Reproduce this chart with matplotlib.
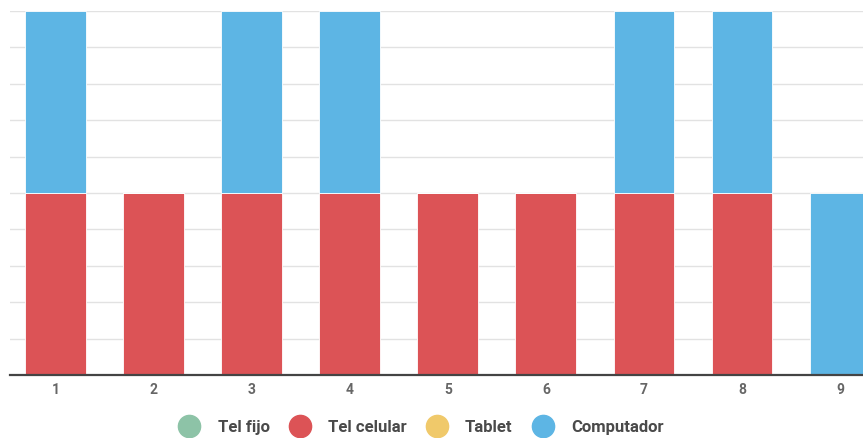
import numpy as np
import matplotlib
matplotlib.use('Agg')
import matplotlib.pyplot as plt
from matplotlib.lines import Line2D

plt.rcParams['font.family'] = ['Roboto', 'DejaVu Sans']

categories = ['1', '2', '3', '4', '5', '6', '7', '8', '9']
tel_fijo = [0, 0, 0, 0, 0, 0, 0, 0, 0]
tel_celular = [1, 1, 1, 1, 1, 1, 1, 1, 0]
tablet = [0, 0, 0, 0, 0, 0, 0, 0, 0]
computador = [1, 0, 1, 1, 0, 0, 1, 1, 1]

names = ['Tel fijo', 'Tel celular', 'Tablet', 'Computador']
colors = ['#8DC3A7', '#DC5356', '#F0C96A', '#5DB5E4']

fig = plt.figure(figsize=(8.63, 4.39), dpi=100)
ax = fig.add_axes([10 / 863, 63 / 439, 853 / 863, 364 / 439])

x = np.arange(1, len(categories) + 1)
bottom = np.zeros(len(categories))
for vals, c in zip([tel_fijo, tel_celular, tablet, computador], colors):
    vals = np.array(vals, dtype=float)
    ax.bar(x, vals, width=0.62, bottom=bottom, color=c,
           edgecolor='white', linewidth=0.6, zorder=3)
    bottom += vals

ax.set_ylim(0, 2)
ax.set_xlim(0.536, 9.234)
ax.set_yticks(np.arange(0, 2.01, 0.2))
ax.set_yticklabels([])
ax.tick_params(axis='y', length=0)
ax.grid(axis='y', color='#e2e2e2', linewidth=1, zorder=0)
ax.set_xticks(x)
ax.set_xticklabels(categories, fontsize=10, color='#666666', fontweight='bold')
ax.tick_params(axis='x', length=0, pad=5)

for s in ['top', 'right', 'left']:
    ax.spines[s].set_visible(False)
ax.spines['bottom'].set_color('#444444')
ax.spines['bottom'].set_linewidth(1.6)
ax.spines['bottom'].set_zorder(4)

handles = [Line2D([0], [0], marker='o', linestyle='None', markersize=16,
                  markerfacecolor=c, markeredgecolor=c) for c in colors]
leg = fig.legend(handles, names, loc='center', bbox_to_anchor=(418 / 863, 1 - 428 / 439),
                 ncol=4, frameon=False, fontsize=12, handletextpad=0.7,
                 columnspacing=0.8, labelcolor='#4a4a4a')
for t in leg.get_texts():
    t.set_fontweight('bold')

fig.savefig('out.png', dpi=100)
